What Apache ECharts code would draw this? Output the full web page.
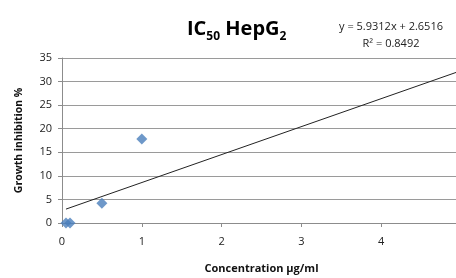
<!DOCTYPE html>
<html>
<head>
<meta charset="utf-8">
<script src="https://cdn.jsdelivr.net/npm/echarts@6/dist/echarts.min.js"></script>
<style>
  html, body { margin: 0; padding: 0; background: #fff; }
  #chart { width: 456px; height: 278px; }
</style>
</head>
<body>
<div id="chart"></div>
<script>
// measured points
const concentrations = [0.05, 0.1, 0.5, 1]
const inhibition = [0, 0, 4.2, 17.8]

// trendline shown on the chart
const slope = 5.9312
const intercept = 2.6516
const rSquared = 0.8492
const trendRange = [0.05, 5]

const xTicks = [0, 1, 2, 3, 4, 5]
const yTicks = [0, 5, 10, 15, 20, 25, 30, 35]

const chart = echarts.init(document.getElementById('chart'))
const font = '"Open Sans", "Liberation Sans", sans-serif'

chart.setOption({
  animation: false,
  backgroundColor: '#fff',
  title: [
    {
      text: '{m|IC}{s|50}{m| HepG}{s|2}',
      left: 182,
      top: 14,
      textStyle: {
        rich: {
          m: { fontFamily: font, fontSize: 20, fontWeight: 'bold', color: '#000', lineHeight: 24, verticalAlign: 'top' },
          s: { fontFamily: font, fontSize: 12, fontWeight: 'bold', color: '#000', lineHeight: 14, padding: [12, 0, 0, 0], verticalAlign: 'top' }
        }
      }
    },
    {
      text: 'y = ' + slope + 'x + ' + intercept + '\nR² = ' + rSquared,
      left: 386,
      top: 13,
      textAlign: 'center',
      textStyle: { fontFamily: font, fontSize: 11, fontWeight: 'normal', color: '#222', lineHeight: 17, align: 'center' }
    }
  ],
  grid: { left: 62, top: 58, right: -5, bottom: 55, outerBoundsMode: 'none' },
  xAxis: {
    type: 'value',
    min: 0,
    max: 5,
    interval: 1,
    name: 'Concentration μg/ml',
    nameLocation: 'middle',
    nameGap: 40,
    nameTextStyle: { fontFamily: font, fontSize: 11, fontWeight: 'bold', color: '#111' },
    axisLine: { show: true, lineStyle: { color: '#8c8c8c', width: 1 } },
    axisTick: { show: true, length: 4, lineStyle: { color: '#8c8c8c' } },
    axisLabel: { fontFamily: font, fontSize: 11, color: '#222', margin: 13, formatter: v => xTicks.includes(v) ? String(v) : '' },
    splitLine: { show: false }
  },
  yAxis: {
    type: 'value',
    min: 0,
    max: 35,
    interval: 5,
    name: 'Growth inhibition %',
    nameLocation: 'middle',
    nameGap: 37,
    nameTextStyle: { fontFamily: font, fontSize: 10.5, fontWeight: 'bold', color: '#111' },
    axisLine: { show: true, lineStyle: { color: '#8c8c8c', width: 1 } },
    axisTick: { show: true, length: 4, lineStyle: { color: '#8c8c8c' } },
    axisLabel: { fontFamily: font, fontSize: 11, color: '#222', margin: 10, formatter: v => yTicks.includes(v) ? String(v) : '' },
    splitLine: { show: true, lineStyle: { color: '#9a9a9a', width: 1 } }
  },
  series: [
    {
      type: 'line',
      data: trendRange.map(x => [x, slope * x + intercept]),
      showSymbol: false,
      lineStyle: { color: '#222', width: 1 },
      z: 3
    },
    {
      type: 'scatter',
      data: concentrations.map((x, i) => [x, inhibition[i]]),
      symbol: 'diamond',
      symbolSize: 11,
      itemStyle: { color: '#4a7ebb' },
      z: 4
    }
  ]
})
</script>
</body>
</html>
